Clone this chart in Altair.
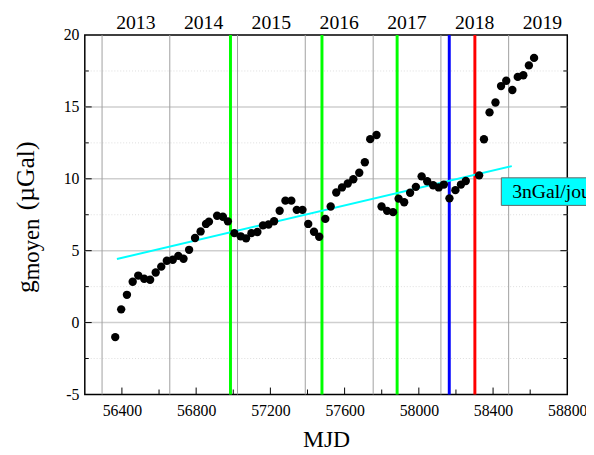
import altair as alt
import pandas as pd

# ---- data ----
mjd = [56364, 56396, 56427, 56458, 56488, 56520, 56552, 56582, 56612, 56642,
       56674, 56704, 56732, 56762, 56794, 56824, 56853, 56869, 56913, 56944,
       56971, 57006, 57040, 57069, 57098, 57130, 57160, 57190, 57220, 57250,
       57281, 57313, 57342, 57373, 57404, 57435, 57463, 57496, 57525, 57555,
       57586, 57617, 57647, 57679, 57709, 57738, 57772, 57799, 57829, 57861,
       57891, 57921, 57953, 57984, 58015, 58045, 58077, 58107, 58135, 58165,
       58197, 58227, 58253, 58325, 58351, 58381, 58413, 58443, 58471, 58504,
       58533, 58563, 58593, 58621]
g_moyen = [-1.01, 0.92, 1.93, 2.84, 3.27, 3.05, 2.98, 3.48, 3.89, 4.30,
           4.37, 4.64, 4.44, 5.06, 5.88, 6.34, 6.86, 7.02, 7.43, 7.36,
           7.04, 6.22, 6.00, 5.86, 6.22, 6.30, 6.76, 6.82, 7.05, 7.78,
           8.48, 8.48, 7.84, 7.84, 6.86, 6.32, 5.97, 7.21, 8.07, 9.05,
           9.40, 9.67, 9.97, 10.42, 11.15, 12.76, 13.05, 8.07, 7.77, 7.68,
           8.62, 8.37, 9.03, 9.44, 10.17, 9.83, 9.55, 9.40, 9.60, 8.64,
           9.21, 9.60, 9.85, 10.24, 12.75, 14.62, 15.31, 16.45, 16.82, 16.18,
           17.09, 17.20, 17.89, 18.41]

trend_mjd = [56373, 58501]
trend_g = [4.42, 10.88]

event_mjd = [56985, 57478, 57883, 58164, 58302]
event_color = ["#00ff00", "#00ff00", "#00ff00", "#0000ff", "#ff0000"]

year_labels = ["2013", "2014", "2015", "2016", "2017", "2018", "2019"]
year_mid = [56475, 56840, 57205, 57571, 57936, 58301, 58666]
year_start = [56293, 56658, 57023, 57388, 57754, 58119, 58484]

x_label_vals = [56400, 56800, 57200, 57600, 58000, 58400, 58800]
x_minor_vals = [56600, 57000, 57400, 57800, 58200, 58600]
y_label_vals = [-5, 0, 5, 10, 15, 20]
y_grid_major = [0, 5, 10, 15]
y_grid_minor = [-2.5, 2.5, 7.5, 12.5, 17.5]

legend_label = ["3nGal/jour"]

# ---- chart ----
W, H = 490, 365
FONT = "Liberation Serif"
xs = alt.Scale(domain=[56200, 58800], nice=False, zero=False)
ys = alt.Scale(domain=[-5, 20], nice=False, zero=False)

pts = pd.DataFrame({"mjd": mjd, "g": g_moyen})
trend = pd.DataFrame({"mjd": trend_mjd, "g": trend_g})
events = pd.DataFrame({"mjd": event_mjd, "c": event_color})
years = pd.DataFrame({"label": year_labels, "mid": year_mid})
ystart = pd.DataFrame({"mjd": year_start})
ygmaj = pd.DataFrame({"v": y_grid_major})
ygmin = pd.DataFrame({"v": y_grid_minor})
xmaj = pd.DataFrame({"v": x_label_vals[:-1]})
xmin = pd.DataFrame({"v": x_minor_vals})
leg = pd.DataFrame({"label": legend_label})
one = pd.DataFrame({"a": [0]})

grid_major = alt.Chart(ygmaj).mark_rule(color="#cfcfcf", strokeWidth=1.5).encode(
    y=alt.Y("v:Q", scale=ys), x=alt.value(0), x2=alt.value(W))
grid_minor = alt.Chart(ygmin).mark_rule(color="#dddddd", strokeWidth=1, strokeDash=[1, 2]).encode(
    y=alt.Y("v:Q", scale=ys), x=alt.value(0), x2=alt.value(W))
grid_years = alt.Chart(ystart).mark_rule(color="#a0a0a0", strokeWidth=1).encode(
    x=alt.X("mjd:Q", scale=xs), y=alt.value(0), y2=alt.value(H))

ev = alt.Chart(events).mark_rule(strokeWidth=3).encode(
    x=alt.X("mjd:Q", scale=xs), y=alt.value(0), y2=alt.value(H),
    color=alt.Color("c:N", scale=None))

tr = alt.Chart(trend).mark_line(color="#00ffff", strokeWidth=2).encode(
    x=alt.X("mjd:Q", scale=xs), y=alt.Y("g:Q", scale=ys))

points = alt.Chart(pts).mark_circle(size=72, color="black", opacity=1).encode(
    x=alt.X("mjd:Q", scale=xs,
            axis=alt.Axis(values=x_label_vals, format="d", grid=False, ticks=False,
                          domain=False, labelFont=FONT, labelFontSize=16,
                          labelColor="black", labelPadding=8, labelFlush=False,
                          title="MJD", titleFont=FONT, titleFontSize=24,
                          titleFontWeight="normal", titleColor="black", titlePadding=10)),
    y=alt.Y("g:Q", scale=ys,
            axis=alt.Axis(values=y_label_vals, labelExpr="'' + datum.value", grid=False,
                          ticks=False, domain=False, labelFont=FONT, labelFontSize=16,
                          labelColor="black", labelPadding=6, labelFlush=False, title=None)))

# inward ticks
ytick_maj = alt.Chart(ygmaj).mark_rule(color="black", strokeWidth=1).encode(
    y=alt.Y("v:Q", scale=ys), x=alt.value(0), x2=alt.value(7))
ytick_min = alt.Chart(ygmin).mark_rule(color="black", strokeWidth=1).encode(
    y=alt.Y("v:Q", scale=ys), x=alt.value(0), x2=alt.value(4))
ytick_maj_r = alt.Chart(ygmaj).mark_rule(color="black", strokeWidth=1).encode(
    y=alt.Y("v:Q", scale=ys), x=alt.value(W - 7), x2=alt.value(W))
ytick_min_r = alt.Chart(ygmin).mark_rule(color="black", strokeWidth=1).encode(
    y=alt.Y("v:Q", scale=ys), x=alt.value(W - 4), x2=alt.value(W))
xtick_maj = alt.Chart(xmaj).mark_rule(color="black", strokeWidth=1).encode(
    x=alt.X("v:Q", scale=xs), y=alt.value(H - 7), y2=alt.value(H))
xtick_min = alt.Chart(xmin).mark_rule(color="black", strokeWidth=1).encode(
    x=alt.X("v:Q", scale=xs), y=alt.value(H - 5), y2=alt.value(H))

# top year labels
yl = alt.Chart(years).mark_text(font=FONT, fontSize=20, baseline="alphabetic",
                                align="center", color="black").encode(
    x=alt.X("mid:Q", scale=xs), y=alt.value(-6), text="label:N")

# y title: g_moyen (µGal)
t_g = alt.Chart(one).mark_text(font=FONT, fontSize=26, angle=270, align="left",
                               baseline="alphabetic", color="black").encode(
    x=alt.value(-52), y=alt.value(262), text=alt.value("g"))
t_sub = alt.Chart(one).mark_text(font=FONT, fontSize=23, angle=270, align="left",
                                 baseline="alphabetic", color="black").encode(
    x=alt.value(-47), y=alt.value(249), text=alt.value("moyen"))
t_unit = alt.Chart(one).mark_text(font=FONT, fontSize=26, angle=270, align="left",
                                  baseline="alphabetic", color="black").encode(
    x=alt.value(-52), y=alt.value(178), text=alt.value("(µGal)"))

# legend box
leg_box = alt.Chart(leg).mark_rect(fill="#00ffff", stroke="#666666", strokeWidth=1).encode(
    x=alt.value(423), x2=alt.value(560), y=alt.value(145), y2=alt.value(173))
leg_text = alt.Chart(leg).mark_text(font=FONT, fontSize=20, align="left",
                                    baseline="alphabetic", color="black").encode(
    x=alt.value(434), y=alt.value(166), text="label:N")

chart = alt.layer(
    grid_minor, grid_major, grid_years, ev, tr, points,
    ytick_maj, ytick_min, ytick_maj_r, ytick_min_r, xtick_maj, xtick_min,
    yl, t_g, t_sub, t_unit, leg_box, leg_text
).properties(
    width=W, height=H,
    autosize=alt.AutoSizeParams(type="none"),
    padding={"left": 78, "top": 24, "right": 19, "bottom": 56},
    background="white",
).configure_view(stroke="black", strokeWidth=1.5)

chart.save("out.html", embed_options={"renderer": "svg", "actions": False})
